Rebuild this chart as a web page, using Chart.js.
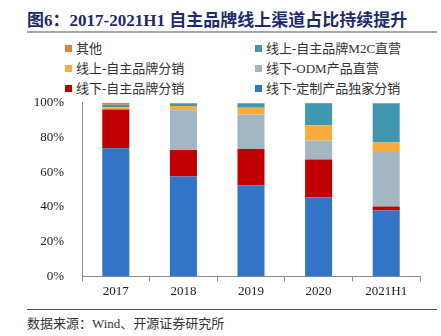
<!DOCTYPE html>
<html>
<head>
<meta charset="utf-8">
<script src="https://cdn.jsdelivr.net/npm/chart.js@4"></script>
<style>
  html, body { margin: 0; padding: 0; background: #fff; }
  body { width: 441px; height: 336px; position: relative; overflow: hidden;
         font-family: "Noto Sans CJK SC", "Liberation Serif", serif; }
  #title { position: absolute; left: 27px; top: 6px; font-size: 17px; font-weight: bold;
           color: #1c2a6e; white-space: nowrap; font-family: "Liberation Serif", "Noto Sans CJK SC", serif; }
  #title-rule { position: absolute; left: 27px; top: 31px; width: 410px; height: 2px; background: #a6a6a6; }
  .leg { position: absolute; font-size: 13px; color: #333; white-space: nowrap; line-height: 16px;
         font-family: "Liberation Serif", "Noto Sans CJK SC", serif; }
  .leg i { display: inline-block; width: 7px; height: 7px; margin-right: 4px; vertical-align: 1px; }
  #wrap { position: absolute; left: 0; top: 85px; width: 441px; height: 216px; }
  #foot-rule { position: absolute; left: 27px; top: 309px; width: 410px; height: 1px; background: #555; }
  #source { position: absolute; left: 27px; top: 313px; font-size: 13px; color: #333; white-space: nowrap;
            font-family: "Liberation Serif", "Noto Sans CJK SC", serif; }
</style>
</head>
<body>
<div id="title">图6：2017-2021H1 自主品牌线上渠道占比持续提升</div>
<div id="title-rule"></div>
<div id="legend"></div>
<div id="wrap"><canvas id="chart"></canvas></div>
<div id="foot-rule"></div>
<div id="source">数据来源：Wind、开源证券研究所</div>
<script>
const categories = ["2017", "2018", "2019", "2020", "2021H1"];

// stacked from bottom to top (%)
const offlineCustom   = [73.8, 57.5, 52.4, 45.6, 37.9]; // 线下-定制产品独家分销
const offlineOwnDist  = [22.3, 15.3, 21.0, 21.8, 2.3];  // 线下-自主品牌分销
const offlineOdm      = [0, 22.9, 19.8, 10.9, 31.5];    // 线下-ODM产品直营
const onlineOwnDist   = [1.3, 2.4, 3.9, 8.7, 5.4];      // 线上-自主品牌分销
const onlineM2c       = [1.5, 1.3, 2.5, 12.8, 22.5];    // 线上-自主品牌M2C直营
const others          = [1.1, 0.6, 0.4, 0.2, 0.4];      // 其他

const yTicks = [0, 20, 40, 60, 80, 100];

const series = [
  { label: "线下-定制产品独家分销", data: offlineCustom,  color: "#3274c6" },
  { label: "线下-自主品牌分销",     data: offlineOwnDist, color: "#c00000" },
  { label: "线下-ODM产品直营",      data: offlineOdm,     color: "#a3b7c2" },
  { label: "线上-自主品牌分销",     data: onlineOwnDist,  color: "#f9ab3b" },
  { label: "线上-自主品牌M2C直营",  data: onlineM2c,      color: "#4198ae" },
  { label: "其他",                  data: others,         color: "#e0823e" }
];

// legend: two columns, as in the source figure
const legendLayout = [
  { s: 5, x: 65,  y: 41 }, { s: 4, x: 255, y: 41 },
  { s: 3, x: 65,  y: 61 }, { s: 2, x: 255, y: 61 },
  { s: 1, x: 65,  y: 81 }, { s: 0, x: 255, y: 81 }
];
const legendEl = document.getElementById("legend");
legendLayout.forEach(p => {
  const d = document.createElement("div");
  d.className = "leg";
  d.style.left = p.x + "px";
  d.style.top = p.y + "px";
  d.innerHTML = `<i style="background:${series[p.s].color}"></i>${series[p.s].label}`;
  legendEl.appendChild(d);
});

const tickFont = { family: "Liberation Serif", size: 13 };

new Chart(document.getElementById("chart"), {
  type: "bar",
  data: {
    labels: categories,
    datasets: series.map(s => ({
      label: s.label,
      data: s.data,
      backgroundColor: s.color,
      borderWidth: 0,
      categoryPercentage: 1,
      barPercentage: 0.4
    }))
  },
  options: {
    responsive: true,
    maintainAspectRatio: false,
    animation: false,
    layout: { padding: { top: 8, right: 21, left: 0, bottom: 0 } },
    plugins: { legend: { display: false }, tooltip: { enabled: false } },
    scales: {
      x: {
        stacked: true,
        grid: { display: true, offset: true, drawOnChartArea: false, drawTicks: true, tickLength: 5, color: "#8c8c8c" },
        border: { display: true, color: "#8c8c8c" },
        ticks: { color: "#222", font: tickFont, padding: 2 }
      },
      y: {
        stacked: true,
        min: 0,
        max: 100,
        afterBuildTicks: axis => { axis.ticks = yTicks.map(v => ({ value: v })); },
        afterFit: axis => { axis.width = 82; },
        grid: { display: false },
        border: { display: true, color: "#8c8c8c" },
        ticks: { color: "#222", font: tickFont, padding: 10, callback: v => v + "%" }
      }
    }
  }
});
</script>
</body>
</html>
